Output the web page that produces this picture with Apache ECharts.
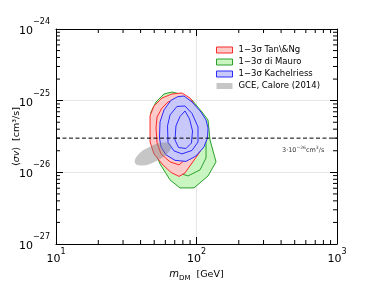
<!DOCTYPE html>
<html><head><meta charset="utf-8">
<script src="https://cdn.jsdelivr.net/npm/echarts@6/dist/echarts.min.js"></script>
<style>html,body{margin:0;padding:0;background:#fff}#c{width:374px;height:288px}</style>
</head><body><div id="c"></div>
<script>
// ---- axes / ticks ----
const xRange = [10, 1000];
const yRange = [1e-27, 1e-24];
const minorMult = [2, 3, 4, 5, 6, 7, 8, 9];
const xDecades = [10, 100];
const yDecades = [1e-27, 1e-26, 1e-25];
const refLineValue = 3e-26;
const refLineLabelPos = [406, 2.0e-26];

// ---- series names ----
const names = ['1−3σ Tan\\&Ng', '1−3σ di Mauro', '1−3σ Kachelriess', 'GCE, Calore (2014)'];

// ---- contours: [mass GeV, <sigma v> cm^3/s] (3σ, 2σ, 1σ) ----
const tanNg3 = [[46.7,6.12e-26],[49.8,8.43e-26],[56.8,1.09e-25],[66.9,1.24e-25],[78.8,1.28e-25],[89.9,1.09e-25],[102.5,7.41e-26],[109.4,4.44e-26],[109.4,2.65e-26],[105.9,1.93e-26],[92.9,1.35e-26],[82.8,9.8e-27],[75.1,8.77e-27],[65.8,9.97e-27],[56.8,1.31e-26],[49.8,1.81e-26],[46.7,2.65e-26],[46.7,4.16e-26]];
const tanNg2 = [[52.4,5.93e-26],[56.8,7.91e-26],[62.7,9.59e-26],[72.6,1.06e-25],[84.2,9.59e-26],[96.0,6.95e-26],[102.5,4.16e-26],[102.5,2.49e-26],[94.4,1.81e-26],[84.2,1.54e-26],[75.1,1.27e-26],[64.8,1.40e-26],[55.9,1.81e-26],[52.4,2.57e-26],[51.5,4.16e-26]];
const tanNg1 = [[62.7,6.95e-26],[73.8,7.91e-26],[87.0,6.53e-26],[92.9,4.16e-26],[91.4,2.65e-26],[81.5,1.93e-26],[69.2,1.81e-26],[60.7,2.33e-26],[57.8,3.90e-26]];

const diMauro3 = [[58.7,1.24e-25],[66.9,1.32e-25],[76.3,1.24e-25],[92.9,1.02e-25],[109.4,6.95e-26],[120.8,5.38e-26],[124.8,2.83e-26],[137.7,1.40e-26],[120.8,8.91e-27],[96.0,6.06e-27],[76.3,6.06e-27],[64.8,7.84e-27],[55.0,1.31e-26],[48.2,2.49e-26],[47.4,6.95e-26],[51.5,9.59e-26]];
const diMauro2 = [[60.7,9.00e-26],[71.4,1.09e-25],[87.0,1.02e-25],[102.5,7.41e-26],[113.0,4.73e-26],[116.9,2.49e-26],[116.9,1.59e-26],[105.9,1.08e-26],[87.0,8.91e-27],[71.4,1.01e-26],[62.7,1.31e-26],[55.0,2.05e-26],[52.4,3.90e-26],[55.0,6.53e-26]];
const diMauro1 = [[64.8,7.41e-26],[82.8,8.43e-26],[99.1,5.74e-26],[105.9,3.33e-26],[102.5,2.05e-26],[89.9,1.49e-26],[73.8,1.49e-26],[64.8,2.05e-26],[60.7,3.90e-26]];

const kach3 = [[73.8,1.14e-25],[81.5,1.16e-25],[92.9,9.59e-26],[107.6,6.95e-26],[116.9,5.38e-26],[120.8,4.16e-26],[119.7,3.02e-26],[113.0,2.26e-26],[99.1,1.69e-26],[84.2,1.42e-26],[70.3,1.47e-26],[60.7,1.75e-26],[55.9,2.26e-26],[54.5,3.02e-26],[55.0,5.05e-26],[58.7,7.41e-26],[65.8,1.01e-25]];
const kach2 = [[72.6,8.30e-26],[82.8,8.43e-26],[92.9,6.63e-26],[102.5,4.30e-26],[102.5,2.65e-26],[92.9,2.02e-26],[78.8,1.81e-26],[69.2,1.99e-26],[62.7,2.61e-26],[62.2,4.44e-26],[64.8,6.32e-26]];
const kach1 = [[82.8,7.18e-26],[89.2,5.56e-26],[93.7,3.78e-26],[92.1,2.57e-26],[84.2,2.15e-26],[74.5,2.22e-26],[70.3,2.83e-26],[71.4,4.44e-26],[76.3,6.02e-26]];

const gce = [[65.8,2.41e-26],[62.7,1.87e-26],[51.9,1.44e-26],[41.6,1.25e-26],[36.5,1.35e-26],[38.3,1.75e-26],[46.3,2.26e-26],[57.8,2.61e-26]];

// ---- log transform (axes are drawn in decades) ----
const L = v => Math.log10(v);
const LP = p => [L(p[0]), L(p[1])];
const xMinor = xDecades.flatMap(d => minorMult.map(k => L(k * d)));
const yMinor = yDecades.flatMap(d => minorMult.map(k => L(k * d)));
const X0 = L(xRange[0]), X1 = L(xRange[1]), Y0 = L(yRange[0]), Y1 = L(yRange[1]);

const FONT = 'DejaVu Sans';
const chart = echarts.init(document.getElementById('c'), null, {renderer: 'canvas'});

function contourSeries(name, levels, stroke, fill, z) {
  const lv = levels.map(l => l.map(LP));
  return {
    type: 'custom', name, coordinateSystem: 'cartesian2d', xAxisIndex: 0, yAxisIndex: 0,
    data: [lv[0][0]], clip: true, z, silent: true,
    renderItem: (params, api) => {
      const px = pts => pts.map(p => api.coord(p));
      const children = [{type: 'polygon', shape: {points: px(lv[0])}, style: {fill: fill, stroke: null}}];
      lv.forEach(l => children.push({type: 'polygon', shape: {points: px(l)}, style: {fill: null, stroke: stroke, lineWidth: 1}}));
      return {type: 'group', children};
    }
  };
}

function expLabel(e) {
  e = Math.round(e);
  return '{b|10}{s|' + (e < 0 ? '−' + (-e) : e) + '}';
}

const axisLine = {show: true, onZero: false, lineStyle: {color: '#000', width: 1}};
const majorTick = {show: true, inside: true, length: 7, lineStyle: {color: '#000', width: 1}};

const option = {
  animation: false,
  backgroundColor: '#fff',
  grid: {left: 56, right: 37, top: 29, bottom: 44, containLabel: false, outerBoundsMode: 'none'},
  xAxis: [
    {type: 'value', min: X0, max: X1, interval: 1, position: 'bottom',
     axisLine, axisTick: majorTick,
     splitLine: {show: true, lineStyle: {color: '#e6e6e6', width: 1}},
     axisLabel: {show: true, margin: 4, showMinLabel: true, showMaxLabel: true, formatter: expLabel,
       rich: {b: {fontSize: 11, fontFamily: FONT, color: '#000', lineHeight: 22},
              s: {fontSize: 8, fontFamily: FONT, color: '#000', lineHeight: 10, verticalAlign: 'top'}}},
     name: '{i|m}{sub|DM}{a|  [GeV]}', nameLocation: 'middle', nameGap: 21,
     nameTextStyle: {rich: {
       i: {fontSize: 10, fontFamily: FONT, fontStyle: 'italic', color: '#000', lineHeight: 14},
       sub: {fontSize: 7, fontFamily: FONT, color: '#000', lineHeight: 8, verticalAlign: 'bottom'},
       a: {fontSize: 9.5, fontFamily: FONT, color: '#000', lineHeight: 14}}}},
    {type: 'value', min: X0, max: X1, interval: 1, position: 'top',
     axisLine, axisTick: majorTick, axisLabel: {show: false}, splitLine: {show: false}}
  ],
  yAxis: [
    {type: 'value', min: Y0, max: Y1, interval: 1, position: 'left',
     axisLine, axisTick: majorTick,
     splitLine: {show: true, lineStyle: {color: '#e6e6e6', width: 1}},
     axisLabel: {show: true, margin: 6, padding: [4, 0, 0, 0], showMinLabel: true, showMaxLabel: true, formatter: expLabel,
       rich: {b: {fontSize: 11, fontFamily: FONT, color: '#000', lineHeight: 26},
              s: {fontSize: 8, fontFamily: FONT, color: '#000', lineHeight: 9, verticalAlign: 'top'}}},
     name: '{a|⟨}{i|σv}{a|⟩  [cm³/s]}', nameLocation: 'middle', nameGap: 34, nameRotate: 90,
     nameMoveOverlap: false,
     nameTextStyle: {rich: {
       i: {fontSize: 9.5, fontFamily: FONT, fontStyle: 'italic', color: '#000'},
       a: {fontSize: 9.5, fontFamily: FONT, color: '#000'}}}},
    {type: 'value', min: Y0, max: Y1, interval: 1, position: 'right',
     axisLine, axisTick: majorTick, axisLabel: {show: false}, splitLine: {show: false}}
  ],
  legend: {
    orient: 'vertical', left: 216, top: 44, padding: 0, itemWidth: 16, itemHeight: 6, itemGap: 0,
    selectedMode: false,
    textStyle: {fontSize: 8.5, fontFamily: FONT, color: '#000', lineHeight: 12, padding: [0, 0, 0, 1]},
    data: [
      {name: names[0], icon: 'rect', itemStyle: {color: '#fdcaca', borderColor: '#ff2a2a', borderWidth: 1}},
      {name: names[1], icon: 'rect', itemStyle: {color: '#c8f5c0', borderColor: '#2ca02c', borderWidth: 1}},
      {name: names[2], icon: 'rect', itemStyle: {color: '#c8c8fa', borderColor: '#2a2aff', borderWidth: 1}},
      {name: names[3], icon: 'rect', itemStyle: {color: '#c6c6c6', borderWidth: 0}}
    ]
  },
  series: [
    contourSeries(names[1], [diMauro3, diMauro2, diMauro1], '#2ca02c', '#c8f5c0', 2),
    contourSeries(names[0], [tanNg3, tanNg2, tanNg1], '#ff2a2a', '#fdcaca', 3),
    contourSeries(names[2], [kach3, kach2, kach1], '#2a2aff', '#c8c8fa', 4),
    {type: 'custom', name: names[3], coordinateSystem: 'cartesian2d', data: [LP(gce[0])], z: 5, silent: true, clip: true,
     renderItem: (p, api) => ({type: 'polygon', shape: {points: gce.map(q => api.coord(LP(q))), smooth: 0.45},
       style: {fill: 'rgba(128,128,128,0.45)', stroke: null}})},
    {type: 'line', data: [[X0, L(refLineValue)], [X1, L(refLineValue)]], symbol: 'none', z: 6, silent: true,
     lineStyle: {color: '#000', width: 1, type: [4, 2.5]}},
    {type: 'scatter', data: [LP(refLineLabelPos)], symbolSize: 0, z: 7, silent: true,
     label: {show: true, position: 'right', distance: 0,
       formatter: '{a|3·10}{s|−26}{a|cm}{s|3}{a|/s}',
       rich: {a: {fontSize: 6.5, fontFamily: FONT, color: '#000', lineHeight: 11},
              s: {fontSize: 4.5, fontFamily: FONT, color: '#000', lineHeight: 6, verticalAlign: 'top'}}}},
    {type: 'custom', coordinateSystem: 'cartesian2d', data: xMinor.map(v => [v, Y0]), z: 8, silent: true, clip: false,
     renderItem: (p, api) => {
       const b = api.coord([api.value(0), Y0]), t = api.coord([api.value(0), Y1]);
       return {type: 'group', children: [
         {type: 'line', shape: {x1: b[0], y1: b[1], x2: b[0], y2: b[1] - 4}, style: {stroke: '#000', lineWidth: 1}},
         {type: 'line', shape: {x1: t[0], y1: t[1], x2: t[0], y2: t[1] + 4}, style: {stroke: '#000', lineWidth: 1}}]};
     }},
    {type: 'custom', coordinateSystem: 'cartesian2d', data: yMinor.map(v => [X0, v]), z: 8, silent: true, clip: false,
     renderItem: (p, api) => {
       const l = api.coord([X0, api.value(1)]), r = api.coord([X1, api.value(1)]);
       return {type: 'group', children: [
         {type: 'line', shape: {x1: l[0], y1: l[1], x2: l[0] + 4, y2: l[1]}, style: {stroke: '#000', lineWidth: 1}},
         {type: 'line', shape: {x1: r[0], y1: r[1], x2: r[0] - 4, y2: r[1]}, style: {stroke: '#000', lineWidth: 1}}]};
     }}
  ]
};
chart.setOption(option);
</script>
</body></html>
